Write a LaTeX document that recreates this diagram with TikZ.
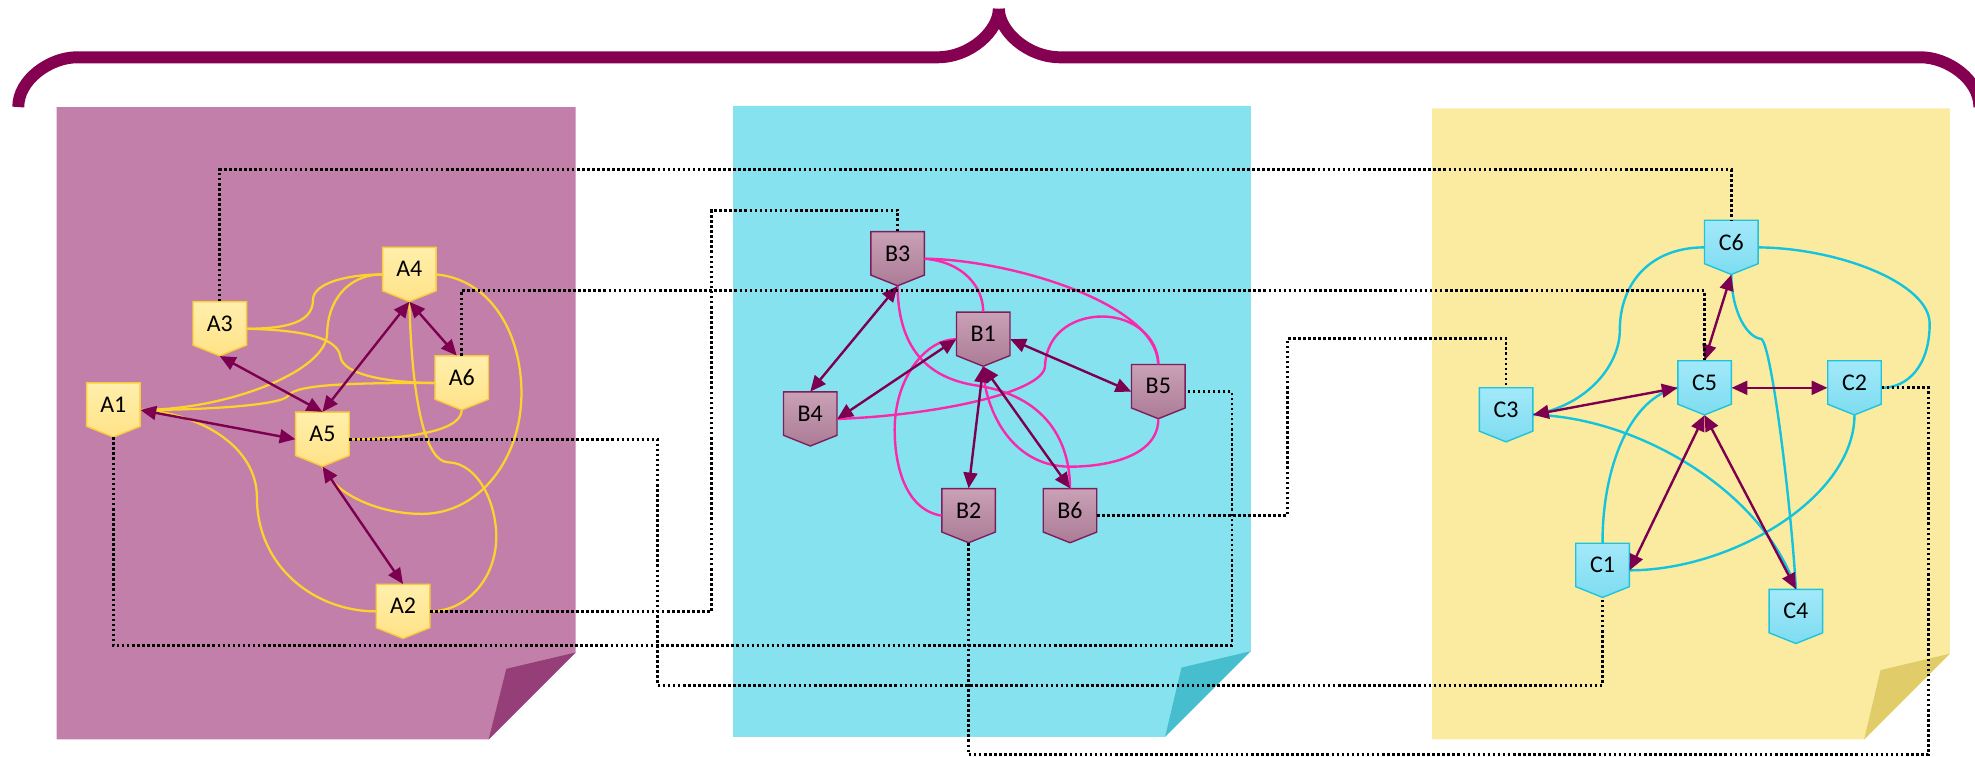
\documentclass[tikz,border=0pt]{standalone}
\usepackage{fontspec}
\newfontfamily\nodefont{Carlito}
\usetikzlibrary{arrows.meta}
\definecolor{bracecol}{RGB}{134,0,82}
\definecolor{arrcol}{RGB}{125,0,80}
\definecolor{panA}{RGB}{194,127,170}
\definecolor{foldA}{RGB}{150,62,120}
\definecolor{panB}{RGB}{134,226,239}
\definecolor{foldB}{RGB}{70,190,206}
\definecolor{panC}{RGB}{251,235,160}
\definecolor{foldC}{RGB}{224,205,105}
\definecolor{aTop}{RGB}{255,239,172}
\definecolor{aBot}{RGB}{255,226,135}
\definecolor{aLine}{RGB}{248,204,60}
\definecolor{bTop}{RGB}{201,161,182}
\definecolor{bBot}{RGB}{172,123,150}
\definecolor{bLine}{RGB}{125,30,90}
\definecolor{cTop}{RGB}{162,233,250}
\definecolor{cBot}{RGB}{126,220,240}
\definecolor{cLine}{RGB}{30,196,222}
\definecolor{yCurve}{RGB}{252,211,44}
\definecolor{pCurve}{RGB}{250,40,170}
\definecolor{cCurve}{RGB}{20,195,222}
\tikzset{
  nbox/.style={minimum width=42.5pt, minimum height=43pt, inner sep=0pt,
    font=\nodefont\fontsize{19pt}{21pt}\selectfont, text=black},
  shA/.style={top color=aTop, bottom color=aBot, draw=aLine, line width=1.1pt},
  shB/.style={top color=bTop, bottom color=bBot, draw=bLine, line width=1.1pt},
  shC/.style={top color=cTop, bottom color=cBot, draw=cLine, line width=1.1pt},
  ycurve/.style={draw=yCurve, line width=1.8pt},
  pcurve/.style={draw=pCurve, line width=1.9pt},
  ccurve/.style={draw=cCurve, line width=1.9pt},
  arr/.style={draw=arrcol, line width=1.9pt,
    {Triangle[length=12.5pt,width=11pt]}-{Triangle[length=12.5pt,width=11pt]}},
  dotconn/.style={draw=black, line width=2.1pt, dash pattern=on 2.1pt off 1.9pt},
  bracestroke/.style={draw=bracecol, line width=9.5pt, line cap=butt},
}
\newcommand{\mknode}[4]{%
  \path[#4,shift={(#2,#3)}] (-21.25,-21.5) -- (21.25,-21.5) -- (21.25,13) -- (0,21.5) -- (-21.25,13) -- cycle;
  \node[nbox] (#1) at (#2,#3) {\raisebox{4.25pt}[\height][\depth]{#1}};%
}
\begin{document}
\begin{tikzpicture}[x=1pt,y=-1pt]
\useasboundingbox (0,0) rectangle (1568,601);
\fill[white] (0,0) rectangle (1568,601);

% panels
\fill[panA] (45,85) -- (457,85) -- (457,518) -- (388,587) -- (45,587) -- cycle;
\fill[foldA] (457,518) -- (402,531) -- (388,587) -- cycle;
\fill[panB] (582,84) -- (993,84) -- (993,517) -- (925,585) -- (582,585) -- cycle;
\fill[foldB] (993,517) -- (938,530) -- (925,585) -- cycle;
\fill[panC] (1137,86) -- (1548,86) -- (1548,519) -- (1480,587) -- (1137,587) -- cycle;
\fill[foldC] (1548,519) -- (1493,532) -- (1480,587) -- cycle;

% brace
\draw[bracestroke] (14.5,85) .. controls (14.5,63) and (40,45.5) .. (61,45.5) -- (744,45.5) .. controls (771,45.5) and (793,24) .. (793,7);
\draw[bracestroke] (793,7) .. controls (793,24) and (815,45.5) .. (842,45.5) -- (1525,45.5) .. controls (1546,45.5) and (1571.5,63) .. (1571.5,85);

% node shapes and nodes
\mknode{A1}{90}{325.5}{shA}
\mknode{A3}{174.5}{261}{shA}
\mknode{A4}{325}{217.9}{shA}
\mknode{A6}{366.6}{304}{shA}
\mknode{A5}{256}{348.7}{shA}
\mknode{A2}{320}{485.4}{shA}
\mknode{B3}{712.6}{205.4}{shB}
\mknode{B1}{780.6}{269.3}{shB}
\mknode{B4}{643.3}{332.6}{shB}
\mknode{B5}{919.6}{310.9}{shB}
\mknode{B2}{769}{409.4}{shB}
\mknode{B6}{849.5}{409.4}{shB}
\mknode{C6}{1374.5}{196.4}{shC}
\mknode{C5}{1353.3}{307.9}{shC}
\mknode{C2}{1472.3}{307.9}{shC}
\mknode{C3}{1195.7}{329.3}{shC}
\mknode{C1}{1272.3}{452.8}{shC}
\mknode{C4}{1425.8}{489.4}{shC}

% panel A curves
\draw[ycurve] (A3.east) .. controls (230,261) and (248.5,255) .. (248.5,238) .. controls (248.5,225) and (275,217.9) .. (A4.west);
\draw[ycurve] (A3.east) .. controls (240,262) and (268,268) .. (270.2,283) .. controls (272,298) and (310,304) .. (A6.west);
\draw[ycurve] (A4.west) .. controls (275,218) and (260,240) .. (259.7,265) .. controls (259,295) and (180,325.5) .. (A1.east);
\draw[ycurve] (A6.west) .. controls (280,304) and (235,305) .. (229,314) .. controls (224,322) and (160,325.5) .. (A1.east);
\draw[ycurve] (A1.east) .. controls (160,328) and (204,355) .. (204,395) .. controls (204,450) and (250,485.4) .. (A2.west);
\draw[ycurve] (A4.east) .. controls (390,222) and (414,265) .. (414,312) .. controls (414,365) and (380,408) .. (335,408) .. controls (300,408) and (265,392) .. (A5.south);
\draw[ycurve] (A4.south) .. controls (327,320) and (338,367) .. (356,367) .. controls (380,368) and (394,400) .. (394,426) .. controls (394,460) and (370,485.4) .. (A2.east);
\draw[ycurve] (A6.south) .. controls (366,345) and (310,348.7) .. (A5.east);
% panel B curves
\draw[pcurve] (B3.east) .. controls (800,206) and (918,240) .. (B5.north);
\draw[pcurve] (B3.east) .. controls (765,208) and (780.6,228) .. (B1.north);
\draw[pcurve] (B3.south) .. controls (713,275) and (735,300) .. (775,306) .. controls (830,314) and (849.5,350) .. (B6.north);
\draw[pcurve] (B4.east) .. controls (740,330) and (828,312) .. (829.6,291) .. controls (831,262) and (855,251.3) .. (875,251.3) .. controls (900,251.3) and (919.6,268) .. (B5.north);
\draw[pcurve] (B5.south) .. controls (919.6,362) and (880,370.5) .. (849.5,370.5) .. controls (800,370.5) and (780.6,320) .. (B1.south);
\draw[pcurve] (B2.west) .. controls (720,405) and (710.3,372) .. (710.3,341) .. controls (710.3,300) and (735,269.3) .. (B1.west);
% panel C curves
\draw[ccurve] (C6.west) .. controls (1310,196.4) and (1286,225) .. (1286,262) .. controls (1286,290) and (1260,322) .. (C3.east);
\draw[ccurve] (C6.east) .. controls (1460,197) and (1532,225) .. (1532,257) .. controls (1532,290) and (1515,307.9) .. (C2.east);
\draw[ccurve] (C6.south) .. controls (1375,250) and (1388,268) .. (1398,269) .. controls (1406,270) and (1422,400) .. (C4.north);
\draw[ccurve] (C3.east) .. controls (1300,331) and (1400,390) .. (C4.north);
\draw[ccurve] (C1.north) .. controls (1272,370) and (1295,315) .. (C5.west);
\draw[ccurve] (C2.south) .. controls (1472,395) and (1375,452.8) .. (C1.east);

% arrows
\draw[arr] (A1.east) -- (A5.west);
\draw[arr] (A3.south) -- (A5.north);
\draw[arr] (A4.south) -- (A5.north);
\draw[arr] (A4.south) -- ([xshift=-4pt]A6.north);
\draw[arr] (A5.south) -- (A2.north);
\draw[arr] (B3.south) -- (B4.north);
\draw[arr] (B1.west) -- (B4.east);
\draw[arr] (B1.east) -- (B5.west);
\draw[arr] (B1.south) -- (B2.north);
\draw[arr] (B1.south) -- (B6.north);
\draw[arr] (C6.south) -- (C5.north);
\draw[arr] (C5.east) -- (C2.west);
\draw[arr] (C5.west) -- (C3.east);
\draw[arr] (C5.south) -- (C1.east);
\draw[arr] (C5.south) -- (C4.north);

% dotted cross-panel connectors
\draw[dotconn] (A3.north) -- ++(0,-104.5) -| (C6.north);
\draw[dotconn] (A6.north) -- ++(0,-51.5) -| (C5.north);
\draw[dotconn] (A5.east) -| (522,544) -| (C1.south);
\draw[dotconn] (A2.east) -| (565,167) -| (B3.north);
\draw[dotconn] (A1.south) |- (978,512.5) |- (B5.east);
\draw[dotconn] (B6.east) -| (1022,269) -| (C3.north);
\draw[dotconn] (B2.south) |- (1531,599) |- (C2.east);
\end{tikzpicture}
\end{document}
